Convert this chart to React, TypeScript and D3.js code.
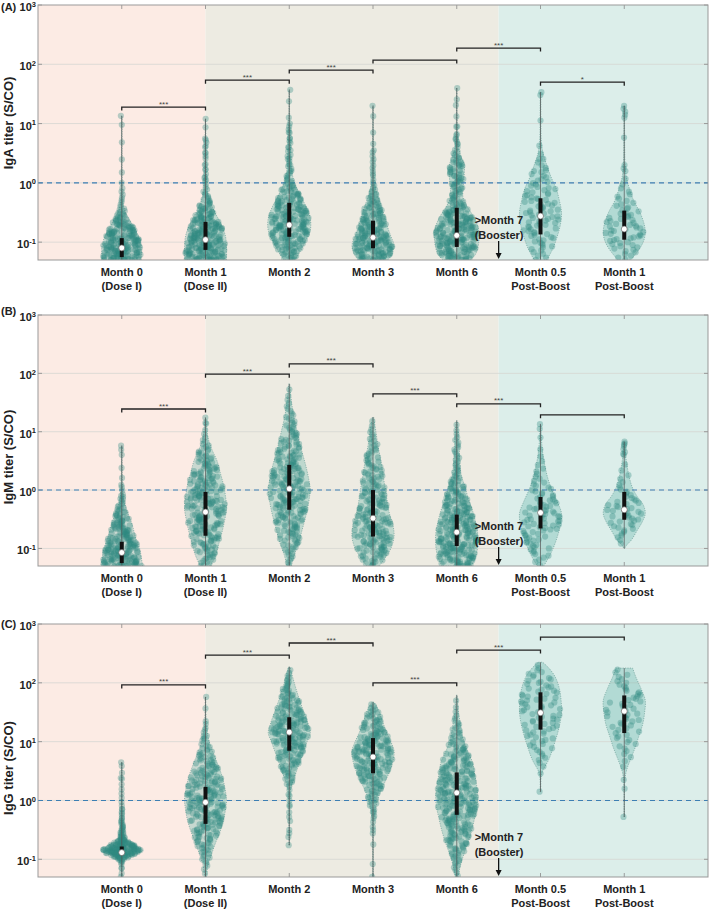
import React from 'react';
import * as d3 from 'd3';

// ---------------- data ----------------
const CATEGORIES = ['Month 0', 'Month 1', 'Month 2', 'Month 3', 'Month 6', 'Month 0.5', 'Month 1'];
const CATEGORY_SUB = ['(Dose I)', '(Dose II)', '', '', '', 'Post-Boost', 'Post-Boost'];
const PANEL_TAGS = ['(A)', '(B)', '(C)'];
const Y_TITLES = ['IgA titer (S/CO)', 'IgM titer (S/CO)', 'IgG titer (S/CO)'];
const Y_TICKS = [0.1, 1, 10, 100, 1000];
const Y_TICK_EXP = ['-1', '0', '1', '2', '3'];
const Y_DOMAIN = [0.05, 1000];
const X_DOMAIN = [0, 8];
const CUTOFF = 1;
const PHASE_START = [0, 2, 5.5];
const PHASE_END = [2, 5.5, 8];
const BOOSTER_AT = 5.5;
const BOOSTER_TEXT = ['>Month 7', '(Booster)'];

// profiles: [log10(titer), relative violin half-width]
const IGA_MEDIAN = [0.08, 0.11, 0.195, 0.12, 0.13, 0.275, 0.166];
const IGA_Q1 = [0.056, 0.074, 0.123, 0.079, 0.083, 0.135, 0.11];
const IGA_Q3 = [0.117, 0.22, 0.46, 0.23, 0.38, 0.55, 0.34];
const IGA_COUNTS = [210, 250, 235, 210, 270, 90, 62];
const IGA_PROFILES = [
  [[-1.32, 0.9], [-1.2, 0.95], [-1.1, 0.95], [-1.0, 0.9], [-0.9, 0.8], [-0.8, 0.66], [-0.7, 0.5], [-0.6, 0.33], [-0.5, 0.18], [-0.4, 0.09], [-0.3, 0.04], [-0.1, 0.02], [0.5, 0.01], [1.13, 0.01]],
  [[-1.32, 1.0], [-1.1, 1.0], [-0.9, 0.95], [-0.7, 0.75], [-0.5, 0.45], [-0.3, 0.2], [-0.1, 0.08], [0.2, 0.04], [0.6, 0.03], [0.9, 0.015], [1.08, 0.01]],
  [[-1.32, 0.25], [-1.2, 0.45], [-1.0, 0.75], [-0.8, 1.0], [-0.6, 1.0], [-0.4, 0.8], [-0.2, 0.5], [0, 0.25], [0.2, 0.12], [0.5, 0.07], [0.9, 0.04], [1.2, 0.015], [1.57, 0.01]],
  [[-1.32, 0.7], [-1.2, 0.9], [-1.05, 1.0], [-0.9, 0.85], [-0.7, 0.65], [-0.5, 0.5], [-0.3, 0.3], [-0.1, 0.12], [0.1, 0.05], [0.5, 0.03], [0.9, 0.015], [1.3, 0.01]],
  [[-1.32, 0.65], [-1.2, 0.9], [-1.0, 1.05], [-0.8, 1.05], [-0.6, 0.85], [-0.4, 0.5], [-0.25, 0.3], [-0.1, 0.3], [0.1, 0.35], [0.3, 0.35], [0.45, 0.2], [0.6, 0.08], [0.8, 0.04], [1.2, 0.015], [1.6, 0.01]],
  [[-1.32, 0.3], [-1.1, 0.6], [-0.9, 0.8], [-0.7, 0.95], [-0.5, 1.0], [-0.3, 0.9], [-0.1, 0.75], [0.1, 0.5], [0.3, 0.3], [0.5, 0.12], [0.7, 0.04], [1.0, 0.02], [1.53, 0.01]],
  [[-1.32, 0.3], [-1.15, 0.65], [-1.0, 0.9], [-0.85, 1.0], [-0.7, 0.95], [-0.5, 0.75], [-0.3, 0.45], [-0.1, 0.25], [0.1, 0.1], [0.3, 0.04], [0.6, 0.02], [1.3, 0.01]],
];
const IGA_EXTRAS = [
  [1.13, -0.09, -0.2, -0.29],
  [1.08, 0.72, 0.68, 0.6, 0.5, 0.45, 0.3, 0.22, 0.1, 0.05],
  [1.57, 1.0, 0.9, 0.85, 0.75, 0.7, 0.6, 0.55, 0.45, 0.4, 0.3, 0.2],
  [1.3, 0.55, 0.45, 0.35, 0.25, 0.15],
  [1.6, 1.31, 0.95, 0.8, 0.75, 0.7, 0.65],
  [1.53, 1.48, 0.4, 0.2],
  [1.3, 1.25, 1.2, 1.15, 1.1, 0.3, 0.2],
];
const IGA_BRACKETS: [number, number, number, string][] = [
  [1, 2, 19, '***'], [2, 3, 54, '***'], [3, 4, 80, '***'], [4, 5, 118, ''], [5, 6, 188, '***'], [6, 7, 50, '*'],
];

const IGM_MEDIAN = [0.085, 0.42, 1.05, 0.33, 0.19, 0.41, 0.46];
const IGM_Q1 = [0.056, 0.165, 0.46, 0.16, 0.11, 0.22, 0.31];
const IGM_Q3 = [0.13, 0.93, 2.7, 1.0, 0.38, 0.76, 0.93];
const IGM_COUNTS = [200, 245, 255, 220, 285, 90, 50];
const IGM_PROFILES = [
  [[-1.32, 1.0], [-1.2, 0.95], [-1.0, 0.85], [-0.8, 0.65], [-0.6, 0.5], [-0.4, 0.3], [-0.2, 0.12], [0, 0.04], [0.3, 0.02], [0.76, 0.01]],
  [[-1.32, 0.25], [-1.1, 0.5], [-0.9, 0.65], [-0.7, 0.8], [-0.5, 0.92], [-0.3, 1.0], [-0.1, 0.95], [0.1, 0.85], [0.3, 0.7], [0.5, 0.55], [0.7, 0.3], [0.9, 0.12], [1.1, 0.05], [1.24, 0.02]],
  [[-1.32, 0.1], [-1.1, 0.25], [-0.9, 0.45], [-0.7, 0.6], [-0.5, 0.75], [-0.3, 0.88], [-0.1, 0.97], [0, 1.0], [0.2, 0.92], [0.4, 0.8], [0.6, 0.65], [0.8, 0.5], [1.0, 0.38], [1.2, 0.25], [1.4, 0.15], [1.6, 0.08], [1.82, 0.02]],
  [[-1.32, 0.3], [-1.15, 0.6], [-1.0, 0.85], [-0.8, 1.0], [-0.6, 0.95], [-0.4, 0.78], [-0.2, 0.68], [0, 0.6], [0.2, 0.5], [0.4, 0.42], [0.6, 0.32], [0.8, 0.22], [1.0, 0.14], [1.25, 0.03]],
  [[-1.32, 0.7], [-1.15, 0.9], [-0.95, 1.0], [-0.75, 1.0], [-0.55, 0.9], [-0.35, 0.75], [-0.15, 0.55], [0.05, 0.4], [0.25, 0.22], [0.45, 0.15], [0.7, 0.12], [0.95, 0.08], [1.19, 0.02]],
  [[-1.32, 0.15], [-1.15, 0.4], [-1.0, 0.6], [-0.8, 0.8], [-0.6, 0.95], [-0.4, 1.0], [-0.2, 0.8], [0, 0.55], [0.2, 0.35], [0.4, 0.22], [0.6, 0.12], [0.8, 0.06], [1.0, 0.03], [1.13, 0.01]],
  [[-1.0, 0.02], [-0.95, 0.1], [-0.85, 0.35], [-0.7, 0.6], [-0.55, 0.85], [-0.4, 1.0], [-0.25, 0.9], [-0.1, 0.6], [0.05, 0.38], [0.25, 0.22], [0.45, 0.12], [0.6, 0.06], [0.83, 0.02]],
];
const IGM_EXTRAS = [
  [0.76, 0.69, 0.05, -0.1, -0.15],
  [1.24, 1.15],
  [],
  [],
  [],
  [1.13, 1.05],
  [0.83, 0.8, 0.78, 0.75, 0.7, 0.65, 0.6],
];
const IGM_BRACKETS: [number, number, number, string][] = [
  [1, 2, 24.5, '***'], [2, 3, 97, '***'], [3, 4, 145, '***'], [4, 5, 44.6, '***'], [5, 6, 30, '***'], [6, 7, 19.5, ''],
];

const IGG_MEDIAN = [0.13, 0.93, 14.5, 5.5, 1.35, 31, 33];
const IGG_Q1 = [0.118, 0.4, 7, 2.9, 0.57, 16, 14];
const IGG_Q3 = [0.165, 1.7, 26, 11.5, 3.0, 69, 61];
const IGG_COUNTS = [190, 235, 210, 210, 290, 82, 58];
const IGG_PROFILES = [
  [[-1.3, 0.01], [-1.1, 0.02], [-1.02, 0.1], [-0.96, 0.35], [-0.9, 0.75], [-0.85, 1.0], [-0.8, 0.8], [-0.72, 0.45], [-0.65, 0.2], [-0.55, 0.08], [-0.3, 0.03], [0, 0.02], [0.65, 0.01]],
  [[-1.3, 0.04], [-1.1, 0.12], [-0.9, 0.3], [-0.7, 0.5], [-0.5, 0.72], [-0.3, 0.88], [-0.1, 0.97], [0, 1.0], [0.2, 0.93], [0.4, 0.8], [0.6, 0.6], [0.8, 0.38], [1.0, 0.18], [1.2, 0.07], [1.4, 0.03], [1.76, 0.01]],
  [[-0.76, 0.01], [0, 0.03], [0.2, 0.07], [0.45, 0.3], [0.6, 0.45], [0.8, 0.65], [1.0, 0.85], [1.15, 1.0], [1.3, 0.9], [1.5, 0.7], [1.7, 0.5], [1.9, 0.32], [2.05, 0.2], [2.27, 0.03]],
  [[-1.3, 0.01], [-0.6, 0.02], [-0.3, 0.05], [-0.1, 0.15], [0.1, 0.3], [0.3, 0.55], [0.5, 0.8], [0.7, 0.97], [0.85, 1.0], [1.0, 0.85], [1.2, 0.6], [1.4, 0.4], [1.55, 0.25], [1.67, 0.05]],
  [[-1.32, 0.06], [-1.1, 0.18], [-0.9, 0.35], [-0.7, 0.55], [-0.5, 0.72], [-0.3, 0.85], [-0.1, 0.97], [0.05, 1.0], [0.25, 0.95], [0.45, 0.85], [0.65, 0.75], [0.85, 0.5], [1.05, 0.3], [1.3, 0.18], [1.5, 0.08], [1.79, 0.02]],
  [[0.15, 0.01], [0.4, 0.03], [0.5, 0.1], [0.7, 0.4], [0.9, 0.6], [1.1, 0.78], [1.3, 0.92], [1.5, 1.0], [1.7, 0.98], [1.9, 0.9], [2.1, 0.7], [2.25, 0.4], [2.35, 0.1]],
  [[-0.28, 0.01], [0.3, 0.02], [0.5, 0.1], [0.7, 0.3], [0.9, 0.52], [1.1, 0.7], [1.3, 0.88], [1.5, 0.97], [1.7, 1.0], [1.9, 0.8], [2.1, 0.55], [2.25, 0.4]],
];
const IGG_EXTRAS = [
  [0.65, 0.38, -0.15, -0.22, -0.3, -0.35, -0.4, -0.45, -0.5, -0.55, -1.15, -1.3],
  [1.76, 1.3, 1.2, 1.1, 1.05],
  [0.3, 0.1, 0.0, -0.1, -0.2, -0.35, -0.5, -0.62, -0.76],
  [-1.3, -0.56, -0.45, -0.3, -0.2, 0.0],
  [],
  [0.15],
  [-0.28, 0.2],
];
const IGG_BRACKETS: [number, number, number, string][] = [
  [1, 2, 92, '***'], [2, 3, 295, '***'], [3, 4, 475, '***'], [4, 5, 100, '***'], [5, 6, 360, '***'], [6, 7, 600, ''],
];

// ---------------- layout / style ----------------
const W = 709;
const H = 909;
const X_LEFT = 38;
const X_RIGHT = 708;
const PANEL_TOP = [5, 315, 624];
const PANEL_BOTTOM = [260, 566, 877];
const TAG_DY = [6, 0, 4];
const TITLE_CY = [123, 457, 768];
const PHASE_COLORS = ['#fcebe4', '#edebe2', '#dceeea'];
const FONT = '"Liberation Sans", Arial, Helvetica, sans-serif';
const MAX_HALF = 21;

function widthAt(profile: number[][], l: number) {
  if (l < profile[0][0] || l > profile[profile.length - 1][0]) return 0;
  for (let i = 1; i < profile.length; i++) {
    if (l <= profile[i][0]) {
      const [l0, w0] = profile[i - 1];
      const [l1, w1] = profile[i];
      const t = (l - l0) / (l1 - l0 || 1);
      return w0 + t * (w1 - w0);
    }
  }
  return profile[profile.length - 1][1];
}

// deterministic integer hash -> [0,1): used only for the horizontal jitter of dots
function hash01(i: number, seed: number) {
  let t = (Math.imul(i + 1, 0x9e3779b1) ^ Math.imul(seed + 7, 0x85ebca6b)) >>> 0;
  t ^= t >>> 16;
  t = Math.imul(t, 0x7feb352d);
  t ^= t >>> 15;
  t = Math.imul(t, 0x846ca68b);
  t ^= t >>> 16;
  return (t >>> 0) / 4294967296;
}

// dots placed at the quantiles of the violin density, jittered horizontally within its width
function spreadPoints(profile: number[][], n: number, seed: number) {
  const lo = profile[0][0];
  const hi = profile[profile.length - 1][0];
  const ls: number[] = [];
  const cum: number[] = [];
  let acc = 0;
  for (let l = lo; l <= hi; l += 0.004) {
    acc += widthAt(profile, l);
    ls.push(l);
    cum.push(acc);
  }
  const out: { l: number; u: number; w: number }[] = [];
  for (let i = 0; i < n; i++) {
    const target = ((i + 0.5) / n) * acc;
    const j = Math.min(d3.bisectLeft(cum, target), ls.length - 1);
    const l = ls[j];
    out.push({ l, u: hash01(i, seed) * 2 - 1, w: widthAt(profile, l) });
  }
  return out;
}

type PanelProps = {
  k: number;
  medians: number[];
  q1: number[];
  q3: number[];
  profiles: number[][][];
  extras: number[][];
  counts: number[];
  brackets: [number, number, number, string][];
};

function Panel({ k, medians, q1, q3, profiles, extras, counts, brackets }: PanelProps) {
  const top = PANEL_TOP[k];
  const bottom = PANEL_BOTTOM[k];
  const x = d3.scaleLinear().domain(X_DOMAIN).range([X_LEFT, X_RIGHT]);
  const y = d3.scaleLog().domain(Y_DOMAIN).range([bottom, top]);
  const wpx = d3.scaleLinear().domain([0, 1]).range([0, MAX_HALF]);
  const clipId = `plotclip${k}`;
  const yl = (l: number) => y(Math.max(Math.pow(10, l), Y_DOMAIN[0]));

  return (
    <g>
      <defs>
        <clipPath id={clipId}>
          <rect x={X_LEFT} y={top} width={X_RIGHT - X_LEFT} height={bottom - top} />
        </clipPath>
      </defs>
      {PHASE_START.map((s, i) => (
        <rect key={'ph' + i} x={x(s)} y={top} width={x(PHASE_END[i]) - x(s)} height={bottom - top} fill={PHASE_COLORS[i]} />
      ))}
      {Y_TICKS.slice(0, 4).map((t, i) => (
        <line key={'g' + i} x1={X_LEFT} x2={X_RIGHT} y1={y(t)} y2={y(t)} stroke="#d6d6d2" strokeWidth={0.8} />
      ))}
      {Y_TICKS.map((t, i) => (
        <g key={'yt' + i}>
          <line x1={X_LEFT} x2={X_LEFT + 4} y1={y(t)} y2={y(t)} stroke="#888" strokeWidth={0.8} />
          <line x1={X_RIGHT - 4} x2={X_RIGHT} y1={y(t)} y2={y(t)} stroke="#888" strokeWidth={0.8} />
        </g>
      ))}
      {CATEGORIES.map((_, i) => (
        <g key={'xt' + i}>
          <line x1={x(i + 1)} x2={x(i + 1)} y1={top} y2={top + 4} stroke="#888" strokeWidth={0.8} />
          <line x1={x(i + 1)} x2={x(i + 1)} y1={bottom - 4} y2={bottom} stroke="#888" strokeWidth={0.8} />
        </g>
      ))}
      <g clipPath={`url(#${clipId})`}>
        {profiles.map((p, i) => {
          const cx = x(i + 1);
          const area = d3
            .area<number[]>()
            .y((d) => yl(d[0]))
            .x0((d) => cx - Math.max(wpx(d[1]), 0.3))
            .x1((d) => cx + Math.max(wpx(d[1]), 0.3))
            .curve(d3.curveCatmullRom.alpha(0.5));
          return (
            <path key={'v' + i} d={area(p) || ''} fill="#5fb3a7" fillOpacity={0.33} stroke="#6f9f99" strokeWidth={0.7} strokeDasharray="1.2,1.2" />
          );
        })}
        <line x1={X_LEFT} x2={X_RIGHT} y1={y(CUTOFF)} y2={y(CUTOFF)} stroke="#3d7fb3" strokeWidth={1.1} strokeDasharray="5,4" />
        {profiles.map((p, i) => {
          const cx = x(i + 1);
          const pts = spreadPoints(p, counts[i], 31 * (i + 1) + 977 * k);
          return (
            <g key={'pts' + i}>
              {pts.map((d, j) => (
                <circle key={j} cx={cx + d.u * wpx(d.w) * 0.95} cy={yl(d.l)} r={3.1} fill="#2f8a80" fillOpacity={0.34} />
              ))}
              {extras[i].map((l, j) => (
                <circle key={'e' + j} cx={cx + (hash01(j + 500, 13 * i + k) * 2 - 1) * Math.max(wpx(widthAt(p, l)), 1)} cy={yl(l)} r={3.1} fill="#2f8a80" fillOpacity={0.34} />
              ))}
            </g>
          );
        })}
        {profiles.map((p, i) => {
          const cx = x(i + 1);
          return (
            <g key={'box' + i}>
              <line x1={cx} x2={cx} y1={yl(p[0][0])} y2={yl(p[p.length - 1][0])} stroke="#555" strokeWidth={0.7} />
              <rect x={cx - 2} y={y(q3[i])} width={4} height={Math.max(y(q1[i]) - y(q3[i]), 1)} fill="#111" />
              <circle cx={cx} cy={y(medians[i])} r={3} fill="#fff" stroke="#666" strokeWidth={0.7} />
            </g>
          );
        })}
      </g>
      {brackets.map(([a, b, v, lab], i) => {
        const yy = y(v);
        return (
          <g key={'br' + i}>
            <path d={`M${x(a)},${yy + 3.5}V${yy}H${x(b)}V${yy + 3.5}`} fill="none" stroke="#222" strokeWidth={1.3} />
            {lab && (
              <text x={(x(a) + x(b)) / 2} y={yy - 0.5} textAnchor="middle" fontFamily={FONT} fontSize={8} fill="#444">
                {lab}
              </text>
            )}
          </g>
        );
      })}
      <rect x={X_LEFT} y={top} width={X_RIGHT - X_LEFT} height={bottom - top} fill="none" stroke="#999" strokeWidth={1} />
      {Y_TICKS.map((t, i) => (
        <text key={'yl' + i} x={36} y={y(t) + 6} textAnchor="end" fontFamily={FONT} fontWeight="bold" fontSize={11} fill="#222">
          10
          <tspan dy={-4.5} fontSize={7.5}>{Y_TICK_EXP[i]}</tspan>
        </text>
      ))}
      {CATEGORIES.map((c, i) => (
        <g key={'xl' + i}>
          <text x={x(i + 1)} y={bottom + 16} textAnchor="middle" fontFamily={FONT} fontWeight="bold" fontSize={11} fill="#222">
            {c}
          </text>
          {CATEGORY_SUB[i] && (
            <text x={x(i + 1)} y={bottom + 30} textAnchor="middle" fontFamily={FONT} fontWeight="bold" fontSize={11} fill="#222">
              {CATEGORY_SUB[i]}
            </text>
          )}
        </g>
      ))}
      <text
        transform={`translate(12.5,${TITLE_CY[k]}) rotate(-90)`}
        textAnchor="middle"
        fontFamily={FONT}
        fontWeight="bold"
        fontSize={13}
        fill="#222"
      >
        {Y_TITLES[k]}
      </text>
      <text x={1} y={top + TAG_DY[k]} fontFamily={FONT} fontWeight="bold" fontSize={11} fill="#222">
        {PANEL_TAGS[k]}
      </text>
      <text x={x(BOOSTER_AT) - 24} y={bottom - 36} fontFamily={FONT} fontWeight="bold" fontSize={11} fill="#222">
        {BOOSTER_TEXT[0]}
      </text>
      <text x={x(BOOSTER_AT) - 24} y={bottom - 21} fontFamily={FONT} fontWeight="bold" fontSize={11} fill="#222">
        {BOOSTER_TEXT[1]}
      </text>
      <line x1={x(BOOSTER_AT)} x2={x(BOOSTER_AT)} y1={bottom - 19} y2={bottom - 5} stroke="#111" strokeWidth={1.3} />
      <path d={`M${x(BOOSTER_AT) - 3},${bottom - 7}L${x(BOOSTER_AT) + 3},${bottom - 7}L${x(BOOSTER_AT)},${bottom - 1}Z`} fill="#111" />
    </g>
  );
}

export default function App() {
  return (
    <svg width={W} height={H} style={{ position: 'absolute', left: 0, top: 0, background: '#fff' }}>
      <rect x={0} y={0} width={W} height={H} fill="#fff" />
      <Panel k={0} medians={IGA_MEDIAN} q1={IGA_Q1} q3={IGA_Q3} profiles={IGA_PROFILES} extras={IGA_EXTRAS} counts={IGA_COUNTS} brackets={IGA_BRACKETS} />
      <Panel k={1} medians={IGM_MEDIAN} q1={IGM_Q1} q3={IGM_Q3} profiles={IGM_PROFILES} extras={IGM_EXTRAS} counts={IGM_COUNTS} brackets={IGM_BRACKETS} />
      <Panel k={2} medians={IGG_MEDIAN} q1={IGG_Q1} q3={IGG_Q3} profiles={IGG_PROFILES} extras={IGG_EXTRAS} counts={IGG_COUNTS} brackets={IGG_BRACKETS} />
    </svg>
  );
}
